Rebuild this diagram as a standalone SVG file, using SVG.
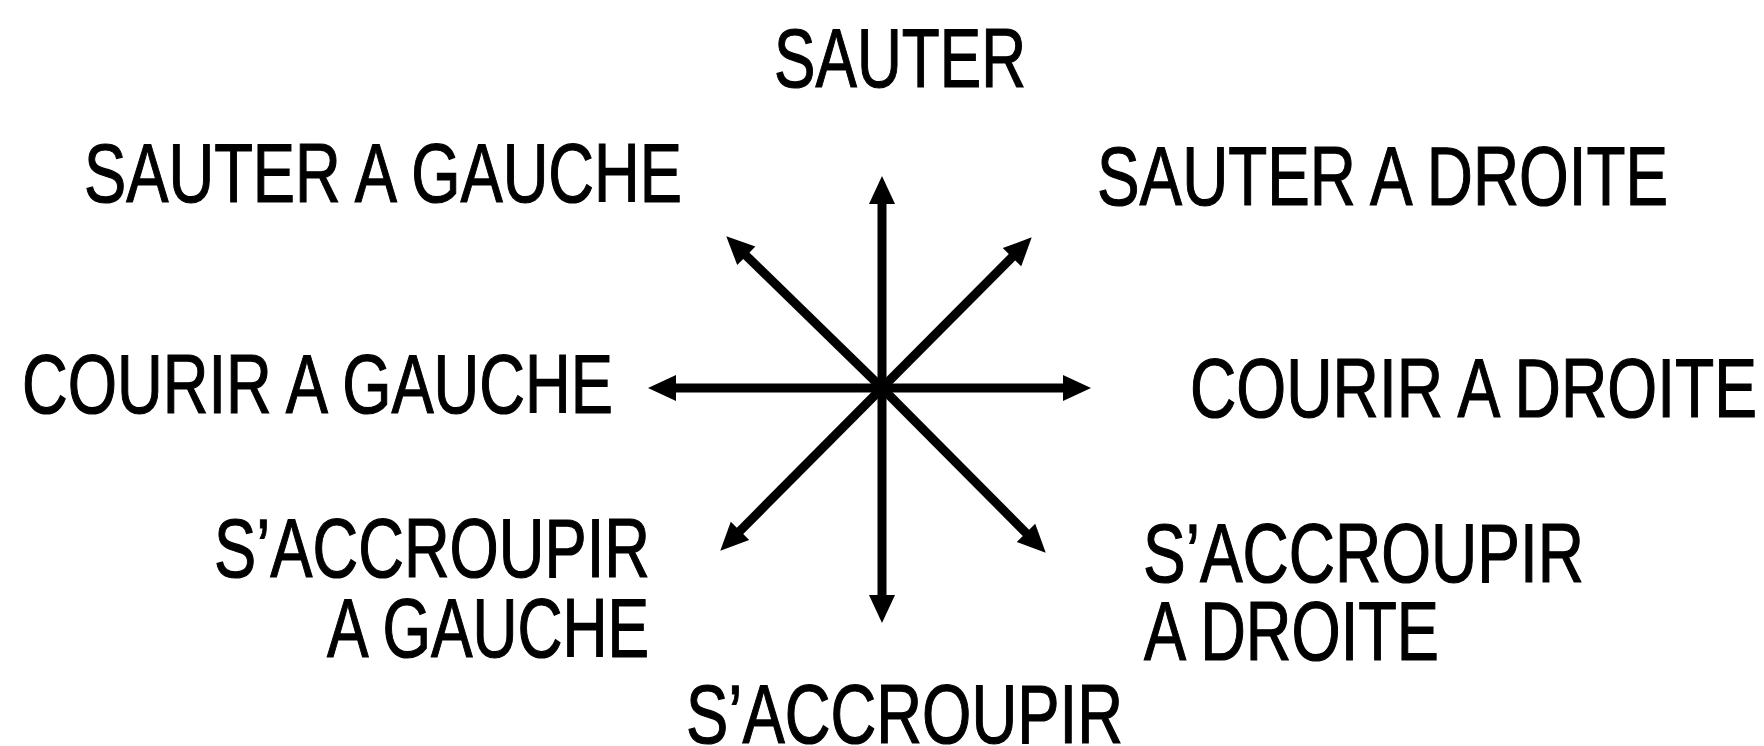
<svg xmlns="http://www.w3.org/2000/svg" width="1764" height="746" viewBox="0 0 1764 746">
<style>
text{font-family:"Liberation Sans",Arial,sans-serif;font-size:84px;fill:#000;stroke:#000;stroke-width:1.2}
.c line{stroke:#000;stroke-width:9;marker-end:url(#ah)}
</style>
<defs>
<marker id="ah" markerUnits="userSpaceOnUse" markerWidth="32" markerHeight="32" viewBox="-2 -15 32 30" refX="1" refY="0" orient="auto">
<path d="M0,-13 L28,0 L0,13 Z" fill="#000"/>
</marker>
</defs>
<rect width="1764" height="746" fill="#fff"/>
<g id="sauter"><text x="774" y="87" textLength="252" lengthAdjust="spacingAndGlyphs">SAUTER</text></g>
<g id="sauter-gauche"><text x="84" y="202" textLength="598" lengthAdjust="spacingAndGlyphs">SAUTER A GAUCHE</text></g>
<g id="sauter-droite"><text x="1097" y="205" textLength="571" lengthAdjust="spacingAndGlyphs">SAUTER A DROITE</text></g>
<g id="courir-gauche"><text x="22" y="413" textLength="591" lengthAdjust="spacingAndGlyphs">COURIR A GAUCHE</text></g>
<g id="courir-droite"><text x="1190" y="417" textLength="567" lengthAdjust="spacingAndGlyphs">COURIR A DROITE</text></g>
<g id="accroupir-gauche"><text x="214" y="577" textLength="436" lengthAdjust="spacingAndGlyphs">S’ACCROUPIR</text><text x="327" y="657" textLength="322" lengthAdjust="spacingAndGlyphs">A GAUCHE</text></g>
<g id="accroupir-droite"><text x="1143" y="582" textLength="441" lengthAdjust="spacingAndGlyphs">S’ACCROUPIR</text><text x="1144" y="660" textLength="295" lengthAdjust="spacingAndGlyphs">A DROITE</text></g>
<g id="accroupir"><text x="686" y="743" textLength="437" lengthAdjust="spacingAndGlyphs">S’ACCROUPIR</text></g>
<g id="connectors" class="c">
<line x1="882" y1="388" x2="882" y2="203"/>
<line x1="882" y1="388" x2="882" y2="596"/>
<line x1="882" y1="388" x2="675" y2="388"/>
<line x1="882" y1="388" x2="1064" y2="388"/>
<line x1="882" y1="388" x2="745.6" y2="255.1"/>
<line x1="882" y1="388" x2="1012.7" y2="256.5"/>
<line x1="882" y1="388" x2="739.3" y2="531.6"/>
<line x1="882" y1="388" x2="1026.7" y2="533.6"/>
<circle cx="882" cy="388" r="10" fill="#000"/>
</g>
</svg>
